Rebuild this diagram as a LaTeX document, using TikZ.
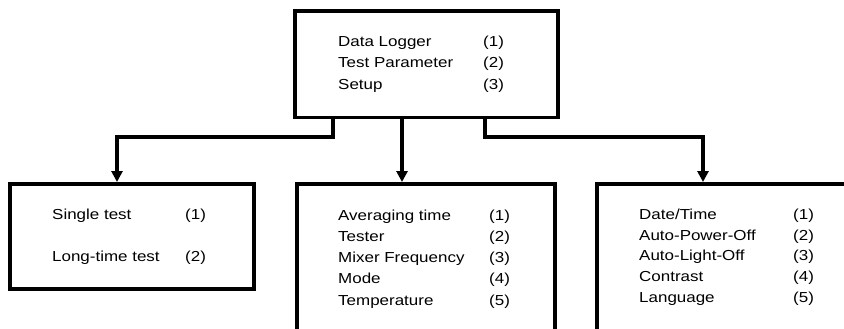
\documentclass[tikz,border=0pt]{standalone}
\usepackage{fontspec}
\setmainfont[FakeStretch=1.17]{Liberation Sans}
\usetikzlibrary{arrows.meta}
\begin{document}
\begin{tikzpicture}[x=1pt,y=-1pt,
  box/.style={draw,line width=3.5pt,rectangle,inner sep=0pt},
  txt/.style={anchor=base west,inner sep=0pt,font=\fontsize{14.5}{21}\selectfont},
  conn/.style={line width=3.5pt,-{Triangle[length=11pt,width=11pt]}}]
\useasboundingbox (0,0) rectangle (844,329);
\clip (0,0) rectangle (844,329);
% boxes
\node[box,minimum width=263pt,minimum height=106pt,anchor=north west] (top) at (293,9.5) {};
\node[box,minimum width=244pt,minimum height=105pt,anchor=north west] (left) at (8,182) {};
\node[box,minimum width=258pt,minimum height=200pt,anchor=north west] (mid) at (295,182) {};
\node[box,minimum width=300pt,minimum height=200pt,anchor=north west] (right) at (595,182) {};
% top texts
\node[txt] (t1) at (338,46.7) {Data Logger};
\node[txt] (t1n) at (483,46.7) {(1)};
\node[txt] (t2) at (338,68) {Test Parameter};
\node[txt] (t2n) at (483,68) {(2)};
\node[txt] (t3) at (338,89) {Setup};
\node[txt] (t3n) at (483,89) {(3)};
% left texts
\node[txt] (l1) at (52,219) {Single test};
\node[txt] (l1n) at (185,219) {(1)};
\node[txt] (l2) at (52,261) {Long-time test};
\node[txt] (l2n) at (185,261) {(2)};
% middle texts
\node[txt] (m1) at (338,220) {Averaging time};
\node[txt] (m1n) at (489,220) {(1)};
\node[txt] (m2) at (338,241) {Tester};
\node[txt] (m2n) at (489,241) {(2)};
\node[txt] (m3) at (338,262) {Mixer Frequency};
\node[txt] (m3n) at (489,262) {(3)};
\node[txt] (m4) at (338,283) {Mode};
\node[txt] (m4n) at (489,283) {(4)};
\node[txt] (m5) at (338,305) {Temperature};
\node[txt] (m5n) at (489,305) {(5)};
% right texts
\node[txt] (r1) at (639,219) {Date/Time};
\node[txt] (r1n) at (793,219) {(1)};
\node[txt] (r2) at (639,240) {Auto-Power-Off};
\node[txt] (r2n) at (793,240) {(2)};
\node[txt] (r3) at (639,260) {Auto-Light-Off};
\node[txt] (r3n) at (793,260) {(3)};
\node[txt] (r4) at (639,281) {Contrast};
\node[txt] (r4n) at (793,281) {(4)};
\node[txt] (r5) at (639,302) {Language};
\node[txt] (r5n) at (793,302) {(5)};
% connectors
\coordinate (jl) at (333,137);
\coordinate (jr) at (485,137);
\draw[conn] (top.south -| jl) -- (jl) -- (jl -| 117,0) -- (117,0 |- left.north);
\draw[conn] (top.south -| 402,0) -- (402,0 |- mid.north);
\draw[conn] (top.south -| jr) -- (jr) -- (jr -| 703,0) -- (703,0 |- right.north);
\end{tikzpicture}
\end{document}
